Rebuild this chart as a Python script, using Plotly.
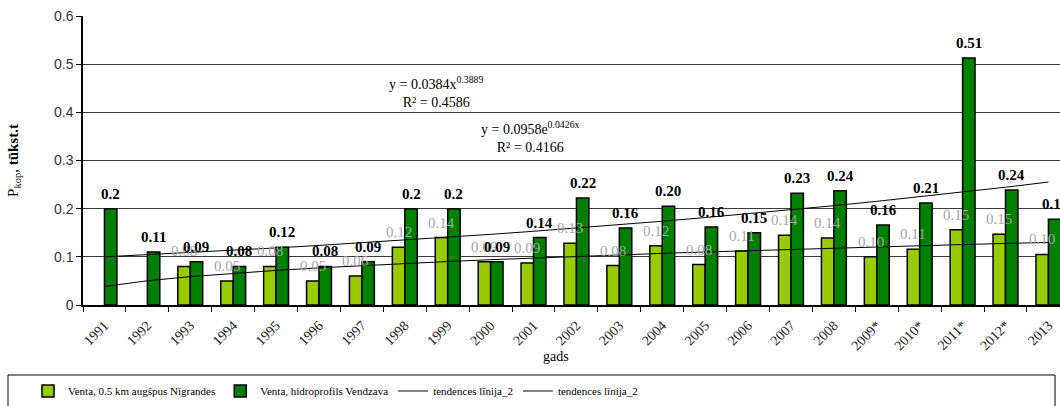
import math
import plotly.graph_objects as go

years = ["1991", "1992", "1993", "1994", "1995", "1996", "1997", "1998", "1999", "2000",
         "2001", "2002", "2003", "2004", "2005", "2006", "2007", "2008", "2009*", "2010*",
         "2011*", "2012*", "2013"]

nigrande = [None, None, 0.08, 0.05, 0.08, 0.05, 0.06, 0.12, 0.14, 0.09, 0.087, 0.128,
            0.082, 0.123, 0.084, 0.112, 0.145, 0.139, 0.100, 0.116, 0.156, 0.147, 0.105]
nigrande_labels = ["", "", "0.08", "0.05", "0.08", "0.05", "0.06", "0.12", "0.14", "0.09",
                   "0.09", "0.13", "0.08", "0.12", "0.08", "0.11", "0.14", "0.14", "0.10",
                   "0.11", "0.15", "0.15", "0.10"]

vendzava = [0.20, 0.11, 0.09, 0.08, 0.12, 0.08, 0.09, 0.20, 0.20, 0.09, 0.14, 0.222, 0.16,
            0.205, 0.162, 0.15, 0.232, 0.237, 0.166, 0.212, 0.513, 0.239, 0.178]
vendzava_labels = ["0.2", "0.11", "0.09", "0.08", "0.12", "0.08", "0.09", "0.2", "0.2", "0.09",
                   "0.14", "0.22", "0.16", "0.20", "0.16", "0.15", "0.23", "0.24", "0.16",
                   "0.21", "0.51", "0.24", "0.18"]

# trend line equations shown on the chart
pow_a, pow_b = 0.0384, 0.3889
exp_a, exp_b = 0.0958, 0.0426

idx = list(range(1, len(years) + 1))
trend_pow = [pow_a * i ** pow_b for i in idx]
trend_exp = [exp_a * math.exp(exp_b * i) for i in idx]

SERIF = "Liberation Serif"

L, T, B = 83, 16, 101
W, H = 1060, 406
pw = W - L
ph = H - T - B
XMAX = 22.27
BARGAP = 0.42
half_off = (1 - BARGAP) / 4  # bar centre offset from category centre, in category units


def px(x):
    return (x - L) / pw


def py(y):
    return (H - B - y) / ph


fig = go.Figure()
fig.add_trace(go.Bar(
    x=years, y=nigrande, name="Venta, 0.5 km augšpus Nīgrandes",
    marker=dict(color="#99CC00", line=dict(color="black", width=1.5)),
))
fig.add_trace(go.Bar(
    x=years, y=vendzava, name="Venta, hidroprofils Vendzava",
    marker=dict(color="#008000", line=dict(color="black", width=1.5)),
))
fig.add_trace(go.Scatter(
    x=years, y=trend_exp, mode="lines", name="tendences līnija_2",
    line=dict(color="black", width=1),
))
fig.add_trace(go.Scatter(
    x=years, y=trend_pow, mode="lines", name="tendences līnija_2",
    line=dict(color="black", width=1),
))

annotations = []
for i, (v, t) in enumerate(zip(nigrande, nigrande_labels)):
    if v is None or not t:
        continue
    annotations.append(dict(
        x=i - half_off, y=v, xref="x", yref="y", text=t, showarrow=False,
        xanchor="center", yanchor="bottom", yshift=5,
        font=dict(family=SERIF, size=15, color="#A6A6A6"),
    ))
for i, (v, t) in enumerate(zip(vendzava, vendzava_labels)):
    annotations.append(dict(
        x=i + half_off, y=v, xref="x", yref="y", text="<b>" + t + "</b>", showarrow=False,
        xanchor="center", yanchor="bottom", yshift=5,
        font=dict(family=SERIF, size=15, color="black"),
    ))

annotations += [
    dict(xref="paper", yref="paper", x=px(436), y=py(92), showarrow=False,
         xanchor="center", yanchor="middle",
         text="y = 0.0384x<sup>0.3889</sup><br>R² = 0.4586",
         font=dict(family=SERIF, size=14), align="center"),
    dict(xref="paper", yref="paper", x=px(530), y=py(137), showarrow=False,
         xanchor="center", yanchor="middle",
         text="y = 0.0958e<sup>0.0426x</sup><br>R² = 0.4166",
         font=dict(family=SERIF, size=14), align="center"),
    dict(xref="paper", yref="paper", x=px(556), y=py(356), showarrow=False,
         xanchor="center", yanchor="middle", text="gads",
         font=dict(family=SERIF, size=14)),
]

fig.update_layout(
    width=W, height=H,
    margin=dict(l=L, r=0, t=T, b=B, pad=0),
    paper_bgcolor="white", plot_bgcolor="white",
    barmode="group", bargap=BARGAP, bargroupgap=0,
    font=dict(family=SERIF, size=14, color="black"),
    showlegend=True,
    legend=dict(
        orientation="h", x=px(28), xanchor="left", y=py(391), yanchor="middle",
        font=dict(family=SERIF, size=11, color="black"),
        bgcolor="rgba(0,0,0,0)", borderwidth=0, itemwidth=30,
        traceorder="normal",
    ),
    xaxis=dict(
        type="category", range=[-0.5, XMAX],
        showline=True, linecolor="black", linewidth=1.5,
        ticks="outside", tickson="boundaries", ticklen=5, tickcolor="black",
        tickangle=-45, tickfont=dict(family=SERIF, size=14, color="#222"),
        ticklabelstandoff=5,
        showgrid=False,
    ),
    yaxis=dict(
        range=[0, 0.6], dtick=0.1,
        showline=True, linecolor="black", linewidth=1.5,
        ticks="outside", ticklen=5, tickcolor="black",
        tickfont=dict(family="Liberation Sans", size=14, color="#333"),
        showgrid=True, gridcolor="#3a3a3a", gridwidth=1,
        zeroline=False,
        title=dict(text="P<sub>kop</sub>, <b>tūkst.t</b>",
                   font=dict(family=SERIF, size=15), standoff=32),
    ),
    shapes=[dict(type="rect", xref="paper", yref="paper",
                 x0=px(8), x1=px(1055), y0=py(375), y1=py(412),
                 line=dict(color="black", width=1), fillcolor="rgba(0,0,0,0)")],
    annotations=annotations,
)

fig.write_html("out.html")
